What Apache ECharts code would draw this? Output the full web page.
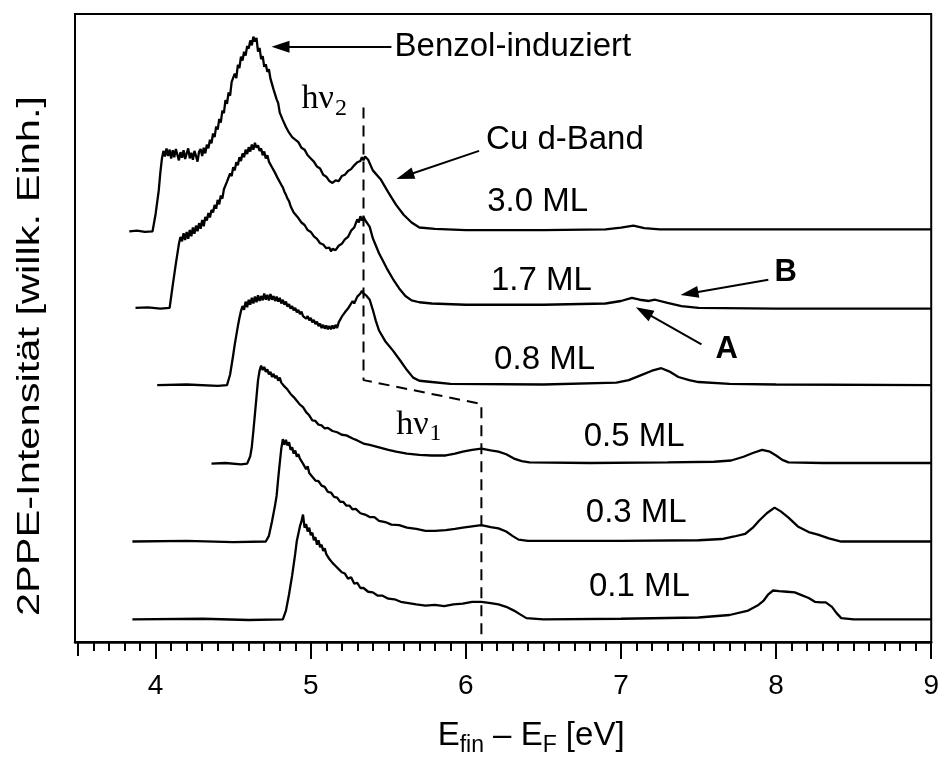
<!DOCTYPE html>
<html><head><meta charset="utf-8">
<script src="https://cdn.jsdelivr.net/npm/echarts@6/dist/echarts.min.js"></script>
<style>html,body{margin:0;padding:0;background:#fff}#c{width:942px;height:762px}</style>
</head><body><div id="c"></div>
<script>
// ---- data: energy E_fin - E_F [eV], intensity above each trace's baseline [arb. units]
const coverages = ['0.1 ML','0.3 ML','0.5 ML','0.8 ML','1.7 ML','3.0 ML'];
const offsets = [3.6, 16.0, 28.4, 40.9, 53.2, 65.4];

const ml30 = [[3.83,0],[3.88,0.1],[3.93,-0.1],[3.98,0],[4.00,2.8],[4.02,6.5],[4.03,9.3],[4.04,11.5],[4.05,12.8],[4.06,11.9],[4.07,13.2],[4.08,12.0],[4.09,13.0],[4.10,11.6],[4.11,12.9],[4.12,11.8],[4.13,13.1],[4.14,12.2],[4.15,11.3],[4.16,12.6],[4.17,11.7],[4.18,12.9],[4.19,11.5],[4.20,12.4],[4.21,13.2],[4.22,11.6],[4.23,12.5],[4.24,11.4],[4.25,12.8],[4.26,12.0],[4.27,11.1],[4.28,12.7],[4.29,13.1],[4.30,12.0],[4.31,13.3],[4.32,12.4],[4.33,13.8],[4.34,13.2],[4.35,14.6],[4.36,14.0],[4.37,15.6],[4.38,15.0],[4.39,16.7],[4.40,16.2],[4.41,17.9],[4.42,17.3],[4.43,19.2],[4.44,18.8],[4.45,20.9],[4.46,20.3],[4.47,22.1],[4.48,21.6],[4.49,23.8],[4.50,23.6],[4.51,25.1],[4.52,24.4],[4.53,26.5],[4.54,26.0],[4.55,27.8],[4.56,27.2],[4.57,28.6],[4.58,28.0],[4.59,29.5],[4.60,29.1],[4.61,30.4],[4.62,29.6],[4.63,31.0],[4.64,30.2],[4.65,30.8],[4.66,28.6],[4.67,29.2],[4.68,27.4],[4.69,27.9],[4.70,26.2],[4.71,26.6],[4.72,25.4],[4.73,25.8],[4.74,24.3],[4.75,24.4],[4.76,22.6],[4.77,22.9],[4.78,21.0],[4.79,20.4],[4.80,18.9],[4.81,18.8],[4.82,17.7],[4.83,17.8],[4.84,16.6],[4.85,16.4],[4.86,15.7],[4.87,15.9],[4.88,15.0],[4.89,15.2],[4.90,14.6],[4.92,14.2],[4.94,13.3],[4.96,13.0],[4.98,12.1],[5.00,11.6],[5.02,11.1],[5.04,10.3],[5.06,10.0],[5.08,9.0],[5.10,8.7],[5.12,8.0],[5.14,7.7],[5.16,8.1],[5.18,8.0],[5.20,8.8],[5.22,9.0],[5.24,9.6],[5.26,9.9],[5.28,10.5],[5.30,11.0],[5.32,11.2],[5.33,11.8],[5.34,11.3],[5.35,11.9],[5.37,11.4],[5.40,9.7],[5.45,8.3],[5.50,6.2],[5.55,4.2],[5.60,2.6],[5.65,1.4],[5.70,0.6],[5.80,0.4],[6.00,0.2],[6.50,0.2],[6.90,0.3],[7.00,0.6],[7.08,0.9],[7.15,0.5],[7.25,0.3],[8.00,0.3],[9.00,0.3]];

const ml17 = [[3.87,0],[3.95,0.1],[4.03,-0.1],[4.09,0],[4.11,3.6],[4.13,7.0],[4.14,8.6],[4.15,10.2],[4.16,11.3],[4.17,10.6],[4.18,11.9],[4.19,10.8],[4.20,12.1],[4.21,11.0],[4.22,12.4],[4.23,11.4],[4.24,12.8],[4.25,11.8],[4.26,13.1],[4.27,12.2],[4.28,13.5],[4.29,12.6],[4.30,14.0],[4.31,13.0],[4.32,14.5],[4.33,13.9],[4.34,15.1],[4.35,14.4],[4.36,15.6],[4.37,15.2],[4.38,16.4],[4.39,15.8],[4.40,17.2],[4.41,16.5],[4.42,17.9],[4.43,17.4],[4.44,18.9],[4.45,18.6],[4.46,20.1],[4.47,19.8],[4.48,21.4],[4.49,21.0],[4.50,22.4],[4.51,21.9],[4.52,23.2],[4.53,22.7],[4.54,24.0],[4.55,23.4],[4.56,24.6],[4.57,24.0],[4.58,25.2],[4.59,24.5],[4.60,25.6],[4.61,24.9],[4.62,26.0],[4.63,25.2],[4.64,26.3],[4.65,25.5],[4.66,25.9],[4.67,25.0],[4.68,25.4],[4.69,24.3],[4.70,24.9],[4.71,23.8],[4.72,24.3],[4.73,23.3],[4.74,23.5],[4.75,22.4],[4.76,22.6],[4.77,21.5],[4.78,21.6],[4.79,20.5],[4.80,20.4],[4.81,19.6],[4.82,19.2],[4.83,18.5],[4.84,18.0],[4.85,17.4],[4.86,17.0],[4.87,16.2],[4.88,16.0],[4.89,15.2],[4.90,15.1],[4.92,14.3],[4.94,13.6],[4.96,13.2],[4.98,12.4],[5.00,12.1],[5.02,11.4],[5.04,11.0],[5.06,10.3],[5.08,10.1],[5.10,9.5],[5.12,9.6],[5.13,9.0],[5.14,9.4],[5.16,9.2],[5.18,9.9],[5.20,10.2],[5.22,10.9],[5.24,11.3],[5.26,12.3],[5.28,12.8],[5.30,14.1],[5.31,13.6],[5.32,14.6],[5.33,13.9],[5.34,14.5],[5.35,14.0],[5.36,14.3],[5.38,12.9],[5.40,11.1],[5.44,8.7],[5.49,6.3],[5.53,4.6],[5.57,3.1],[5.61,1.9],[5.65,1.2],[5.70,0.9],[5.78,0.7],[6.00,0.5],[6.50,0.5],[6.90,0.7],[7.00,1.1],[7.07,1.6],[7.12,1.3],[7.18,1.1],[7.22,1.3],[7.30,0.8],[7.39,0.3],[7.50,0.0],[8.00,-0.1],[9.00,-0.1]];

const ml08 = [[4.01,0],[4.20,0.1],[4.40,-0.1],[4.46,0],[4.48,1.7],[4.50,4.8],[4.51,6.5],[4.53,9.4],[4.54,10.7],[4.55,11.8],[4.56,12.6],[4.57,12.0],[4.58,13.3],[4.59,12.4],[4.60,13.6],[4.61,12.8],[4.62,13.9],[4.63,13.0],[4.64,14.1],[4.65,13.2],[4.66,14.3],[4.67,13.4],[4.68,14.2],[4.69,13.5],[4.70,14.6],[4.71,13.6],[4.72,14.4],[4.73,13.5],[4.74,14.5],[4.75,13.6],[4.76,14.2],[4.77,13.4],[4.78,14.1],[4.79,13.3],[4.80,13.9],[4.81,13.0],[4.82,13.6],[4.83,12.8],[4.84,13.3],[4.85,12.5],[4.86,12.9],[4.87,12.2],[4.88,12.6],[4.89,11.9],[4.90,12.3],[4.91,11.6],[4.92,12.0],[4.93,11.3],[4.94,11.7],[4.95,11.0],[4.96,11.3],[4.97,10.6],[4.98,11.0],[4.99,10.3],[5.00,10.7],[5.01,10.0],[5.02,10.4],[5.03,9.7],[5.04,10.1],[5.05,9.4],[5.06,9.8],[5.07,9.1],[5.08,9.6],[5.09,9.0],[5.10,9.5],[5.11,8.9],[5.12,9.4],[5.13,8.9],[5.14,9.5],[5.15,9.0],[5.16,9.6],[5.17,9.1],[5.18,10.0],[5.19,10.3],[5.20,10.9],[5.21,11.2],[5.22,11.6],[5.24,12.2],[5.25,12.0],[5.27,13.4],[5.28,13.0],[5.30,14.1],[5.31,13.8],[5.32,14.6],[5.33,15.0],[5.34,14.6],[5.36,14.2],[5.38,13.6],[5.40,12.0],[5.42,10.2],[5.44,8.7],[5.48,7.0],[5.53,5.5],[5.58,3.8],[5.62,2.4],[5.66,1.2],[5.70,0.7],[5.78,0.5],[5.90,0.2],[6.50,0.1],[6.97,0.4],[7.05,0.8],[7.13,1.6],[7.20,2.3],[7.26,2.7],[7.31,2.2],[7.37,1.3],[7.44,0.8],[7.50,0.5],[7.70,0.2],[8.00,0.1],[9.00,0.0]];

const ml05 = [[4.36,0],[4.45,0.1],[4.55,-0.1],[4.59,0],[4.61,1.2],[4.62,2.7],[4.63,5.2],[4.64,7.9],[4.65,10.6],[4.66,13.3],[4.67,14.8],[4.68,15.6],[4.69,14.9],[4.70,15.4],[4.71,14.6],[4.72,15.0],[4.73,14.2],[4.74,14.6],[4.75,13.8],[4.76,14.3],[4.77,13.6],[4.78,14.0],[4.79,13.2],[4.80,13.7],[4.81,12.9],[4.82,13.1],[4.83,12.3],[4.84,12.5],[4.85,11.8],[4.86,11.9],[4.87,11.1],[4.88,11.3],[4.89,10.6],[4.90,10.7],[4.91,10.0],[4.92,10.1],[4.93,9.4],[4.95,9.0],[4.97,8.2],[4.99,7.7],[5.01,6.9],[5.03,6.8],[5.05,6.2],[5.07,6.1],[5.09,5.6],[5.11,5.7],[5.14,5.2],[5.17,5.0],[5.20,4.6],[5.23,4.5],[5.27,4.0],[5.30,3.7],[5.34,3.2],[5.38,3.0],[5.44,2.6],[5.50,2.2],[5.55,1.9],[5.62,1.6],[5.70,1.4],[5.78,1.3],[5.87,1.3],[5.93,1.6],[5.98,1.9],[6.04,2.2],[6.10,2.4],[6.16,2.1],[6.21,1.9],[6.26,1.5],[6.31,0.8],[6.36,0.4],[6.41,0.2],[6.80,0.1],[7.30,0.2],[7.60,0.3],[7.71,0.5],[7.79,1.1],[7.85,1.7],[7.91,2.2],[7.96,1.9],[8.00,1.3],[8.04,0.6],[8.08,0.2],[8.30,0.1],[9.00,0.1]];

const ml03 = [[3.85,0],[4.20,0.1],[4.50,-0.1],[4.71,0],[4.73,0.9],[4.75,3.2],[4.77,5.8],[4.78,7.3],[4.79,10.0],[4.80,12.5],[4.81,14.8],[4.82,16.3],[4.83,15.4],[4.84,16.2],[4.85,15.3],[4.86,15.8],[4.87,14.6],[4.88,15.0],[4.89,14.0],[4.90,14.5],[4.91,13.5],[4.92,13.9],[4.93,13.2],[4.94,13.4],[4.95,12.4],[4.96,12.5],[4.97,11.5],[4.98,12.0],[4.99,10.9],[5.00,11.1],[5.01,10.3],[5.02,10.4],[5.03,9.7],[5.05,9.6],[5.07,8.9],[5.09,8.7],[5.11,7.9],[5.13,7.8],[5.15,7.1],[5.17,7.0],[5.19,6.3],[5.21,6.3],[5.23,5.7],[5.25,5.7],[5.27,5.1],[5.29,5.2],[5.32,4.5],[5.35,4.3],[5.38,3.9],[5.41,3.9],[5.44,3.3],[5.48,3.1],[5.52,2.7],[5.57,2.6],[5.62,2.2],[5.68,2.0],[5.74,1.7],[5.80,1.7],[5.87,1.8],[5.93,2.0],[5.98,2.2],[6.04,2.4],[6.10,2.6],[6.16,2.3],[6.21,2.1],[6.26,1.6],[6.30,0.9],[6.34,0.3],[6.40,0.1],[7.00,0.1],[7.50,0.2],[7.65,0.4],[7.73,0.8],[7.80,1.2],[7.85,2.2],[7.89,3.3],[7.94,4.5],[7.99,5.4],[8.03,4.8],[8.08,3.8],[8.14,2.4],[8.21,1.5],[8.27,1.1],[8.34,0.5],[8.42,0.0],[9.00,0.0]];

const ml01 = [[3.85,0],[4.30,0.1],[4.60,-0.1],[4.82,0],[4.84,1.4],[4.86,4.0],[4.88,7.0],[4.90,10.5],[4.91,12.5],[4.93,14.8],[4.94,15.6],[4.95,16.7],[4.96,14.6],[4.97,15.2],[4.98,14.0],[4.99,14.6],[5.00,13.4],[5.01,13.8],[5.02,12.6],[5.03,13.1],[5.04,11.9],[5.05,12.6],[5.06,11.5],[5.07,11.9],[5.08,10.9],[5.09,11.3],[5.10,10.4],[5.11,10.5],[5.12,9.6],[5.13,9.9],[5.14,9.0],[5.15,9.3],[5.16,8.5],[5.17,8.7],[5.18,8.0],[5.19,8.2],[5.20,7.5],[5.22,7.3],[5.24,6.5],[5.26,6.7],[5.28,5.7],[5.30,5.8],[5.32,5.0],[5.34,5.0],[5.37,4.4],[5.40,4.3],[5.43,3.8],[5.46,3.8],[5.50,3.3],[5.54,3.2],[5.58,2.8],[5.63,2.6],[5.68,2.4],[5.74,2.2],[5.80,2.3],[5.86,2.1],[5.92,2.4],[5.98,2.5],[6.04,2.8],[6.10,2.8],[6.16,2.6],[6.21,2.4],[6.26,2.0],[6.31,1.4],[6.35,0.8],[6.39,0.2],[6.50,0.0],[7.00,0.1],[7.50,0.3],[7.70,0.7],[7.82,1.4],[7.88,2.2],[7.92,3.0],[7.95,4.0],[7.98,4.6],[8.02,4.5],[8.07,4.4],[8.12,4.3],[8.16,3.9],[8.21,3.4],[8.25,2.8],[8.29,2.7],[8.32,2.7],[8.36,2.0],[8.39,1.0],[8.42,0.2],[8.50,0.0],[9.00,0.0]];

const spectra = [ml01, ml03, ml05, ml08, ml17, ml30];

// axis ticks
const majorTicks = [4, 5, 6, 7, 8, 9];
const firstTick = [3.5];
const minorTicks = [];
for (let k = 35; k <= 90; k++) minorTicks.push(k / 10);

// guide lines & annotations (data coordinates)
const photonGuide = [[5.34, 85.1], [5.34, 41.7], [6.10, 37.9], [6.10, 0]];
const arrowFrom = [[5.52, 94.8], [6.085, 78.2], [7.95, 57.7], [7.519, 47.4]];
const arrowTo   = [[4.805, 94.8], [5.607, 74.2], [7.441, 55.5], [7.146, 52.6]];
const noteTexts = ['Benzol-induziert', 'Cu d-Band', '3.0 ML', '1.7 ML', '0.8 ML', '0.5 ML', '0.3 ML', '0.1 ML'];
const notePos = [[5.54, 94.8], [6.13, 80.0], [6.137, 70.0], [6.162, 57.5], [6.182, 44.9], [6.76, 32.7], [6.773, 20.5], [6.793, 8.7]];
const boldTexts = ['A', 'B'];
const boldPos = [[7.609, 46.6], [7.989, 58.8]];
const photonTexts = ['2', '1'];
const photonPos = [[4.941, 86.4], [5.551, 34.6]];

const SANS = '"Liberation Sans", Arial, sans-serif';
const SERIF = '"Liberation Serif", "Times New Roman", serif';

const chart = echarts.init(document.getElementById('c'), null, {renderer: 'canvas'});

const series = spectra.map((s, i) => ({
  type: 'line', name: coverages[i],
  data: s.map(p => [p[0], p[1] + offsets[i]]),
  showSymbol: false, symbol: 'none', animation: false,
  lineStyle: {color: '#000', width: 2.3}, z: 3
}));
series.push({
  type: 'line', name: 'guide', data: photonGuide, showSymbol: false, symbol: 'none', animation: false,
  lineStyle: {color: '#000', width: 2, type: [11, 7]}, z: 4,
  markLine: {
    silent: true, animation: false, symbol: ['none', 'triangle'], symbolSize: [12, 18],
    lineStyle: {type: 'solid', color: '#000', width: 2}, label: {show: false},
    emphasis: {disabled: true},
    data: arrowFrom.map((f, i) => [{coord: f}, {coord: arrowTo[i]}])
  }
});

const axisBase = {type: 'value', min: 3.48, max: 9, position: 'bottom', splitLine: {show: false}};
chart.setOption({
  animation: false,
  backgroundColor: '#fff',
  grid: {left: 75, right: 9, top: 14, bottom: 115, show: true, borderColor: '#000', borderWidth: 2},
  xAxis: [
    Object.assign({}, axisBase, {
      axisLine: {show: true, lineStyle: {color: '#000', width: 2.5}},
      axisTick: {show: true, customValues: minorTicks, length: 9, inside: false, lineStyle: {color: '#000', width: 2}},
      axisLabel: {show: true, customValues: majorTicks, color: '#000', fontSize: 28, fontFamily: SANS, margin: 30},
      name: '{m|E}{s|fin}{m| – E}{s|F}{m| [eV]}',
      nameLocation: 'middle', nameGap: 72,
      nameTextStyle: {color: '#000', padding: [0, 0, 0, 56], rich: {
        m: {fontSize: 33, fontFamily: SANS, color: '#000'},
        s: {fontSize: 23, fontFamily: SANS, color: '#000', padding: [20, 0, 0, 0]}
      }}
    }),
    Object.assign({}, axisBase, {
      axisLine: {show: false}, axisLabel: {show: false},
      axisTick: {show: true, customValues: majorTicks, length: 17, lineStyle: {color: '#000', width: 2}}
    }),
    Object.assign({}, axisBase, {
      axisLine: {show: false}, axisLabel: {show: false},
      axisTick: {show: true, customValues: firstTick, length: 14, lineStyle: {color: '#000', width: 2}}
    })
  ],
  yAxis: {type: 'value', min: 0, max: 100, show: false},
  series: series
});

const P = c => chart.convertToPixel({xAxisIndex: 0, yAxisIndex: 0}, c);
const graphics = [];
noteTexts.forEach((t, i) => {
  const p = P(notePos[i]);
  graphics.push({type: 'text', x: p[0], y: p[1], silent: true,
    style: {text: t, fill: '#000', fontSize: 33, fontFamily: SANS, align: 'left', verticalAlign: 'middle'}});
});
boldTexts.forEach((t, i) => {
  const p = P(boldPos[i]);
  graphics.push({type: 'text', x: p[0], y: p[1], silent: true,
    style: {text: t, fill: '#000', fontSize: 31, fontWeight: 'bold', fontFamily: SANS, align: 'left', verticalAlign: 'middle'}});
});
photonTexts.forEach((t, i) => {
  const p = P(photonPos[i]);
  graphics.push({type: 'text', x: p[0], y: p[1], silent: true,
    style: {text: '{a|hν}{b|' + t + '}', align: 'left', verticalAlign: 'middle',
      rich: {a: {fontSize: 34, fontFamily: SERIF, fill: '#000'},
             b: {fontSize: 24, fontFamily: SERIF, fill: '#000', padding: [18, 0, 0, 1]}}}});
});
graphics.push({type: 'text', x: 30, y: 356, rotation: Math.PI / 2, scaleX: 1.3, silent: true,
  style: {text: '2PPE-Intensität [willk. Einh.]', fill: '#000', fontSize: 32, fontFamily: SANS, align: 'center', verticalAlign: 'middle'}});
chart.setOption({graphic: graphics});
</script></body></html>
